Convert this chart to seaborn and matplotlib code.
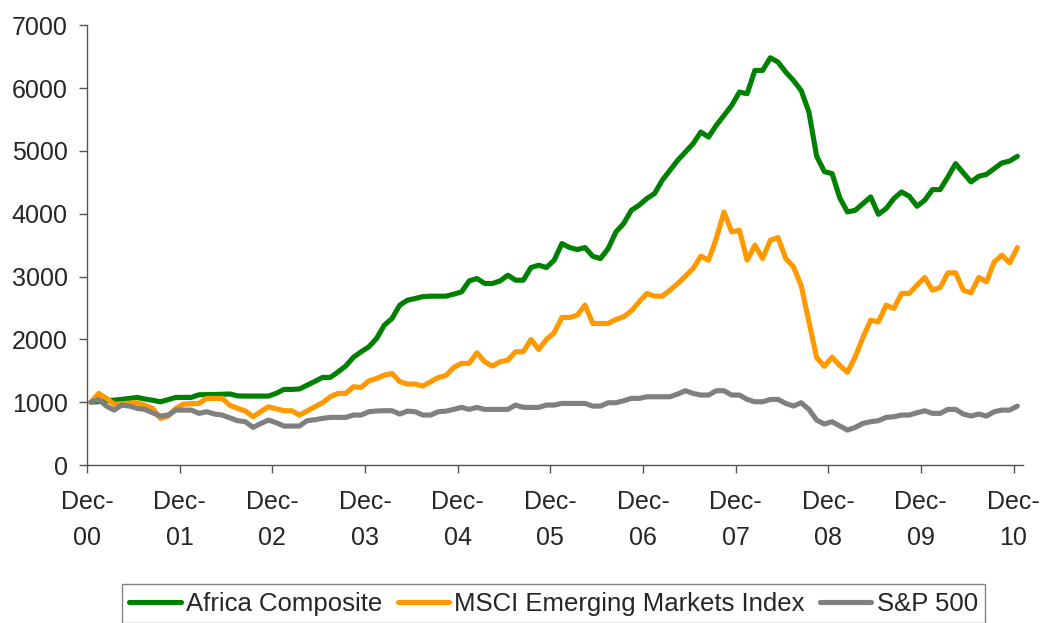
import matplotlib
matplotlib.use('Agg')
import matplotlib.pyplot as plt
import numpy as np
import pandas as pd
import seaborn as sns

# Monthly index values, Dec-00 = 1000
africa = [1000, 1010, 1020, 1033, 1045, 1060, 1076, 1050, 1030, 1006, 1040, 1076,
          1076, 1076, 1118, 1120, 1122, 1126, 1130, 1100, 1097, 1097, 1097, 1097,
          1140, 1203, 1203, 1210, 1270, 1330, 1394, 1394, 1480, 1575, 1715, 1802,
          1881, 2014, 2226, 2332, 2544, 2623, 2650, 2680, 2687, 2687, 2687, 2719,
          2755, 2930, 2968, 2889, 2889, 2930, 3021, 2941, 2941, 3143, 3180, 3143,
          3259, 3524, 3461, 3429, 3461, 3323, 3286, 3445, 3709, 3842, 4054, 4134,
          4240, 4320, 4531, 4690, 4849, 4981, 5114, 5299, 5220, 5405, 5564, 5723,
          5935, 5909, 6280, 6280, 6481, 6412, 6253, 6120, 5960, 5617, 4915, 4670,
          4637, 4250, 4027, 4054, 4160, 4266, 3990, 4081, 4240, 4346, 4277, 4118,
          4213, 4383, 4383, 4584, 4796, 4648, 4505, 4595, 4626, 4717, 4807, 4838,
          4913]

msci = [1000, 1139, 1060, 969, 975, 985, 991, 950, 901, 742, 779, 901,
        969, 975, 980, 1060, 1060, 1060, 950, 901, 860, 768, 850, 927,
        895, 864, 864, 795, 860, 927, 991, 1086, 1139, 1139, 1245, 1235,
        1340, 1378, 1431, 1457, 1325, 1288, 1288, 1256, 1325, 1394, 1426, 1553,
        1617, 1617, 1786, 1643, 1574, 1643, 1669, 1802, 1802, 1998, 1839, 1998,
        2104, 2348, 2348, 2385, 2544, 2253, 2253, 2253, 2316, 2358, 2453, 2596,
        2730, 2687, 2687, 2782, 2888, 3005, 3127, 3323, 3259, 3604, 4027, 3709,
        3736, 3259, 3498, 3286, 3577, 3620, 3286, 3153, 2854, 2280, 1710, 1570,
        1717, 1582, 1475, 1722, 2030, 2305, 2279, 2544, 2491, 2730, 2730, 2862,
        2984, 2782, 2825, 3058, 3058, 2782, 2740, 2984, 2914, 3232, 3339, 3216,
        3461]

sp500 = [1000, 1044, 938, 874, 954, 938, 901, 885, 830, 779, 795, 874,
         874, 874, 822, 848, 811, 795, 750, 705, 689, 599, 660, 715,
         673, 620, 620, 620, 705, 720, 742, 758, 758, 758, 795, 795,
         848, 860, 864, 864, 811, 858, 848, 795, 795, 848, 858, 885,
         917, 885, 917, 885, 885, 885, 885, 954, 917, 917, 917, 954,
         954, 980, 980, 980, 980, 938, 938, 991, 991, 1022, 1060, 1060,
         1086, 1086, 1086, 1086, 1129, 1182, 1139, 1113, 1113, 1182, 1182, 1113,
         1113, 1044, 1006, 1006, 1044, 1044, 980, 938, 991, 885, 715, 652,
         689, 620, 556, 599, 663, 689, 705, 758, 768, 795, 795, 832,
         864, 822, 822, 885, 885, 811, 779, 811, 779, 848, 874, 874,
         938]

series_names = ['Africa Composite', 'MSCI Emerging Markets Index', 'S&P 500']
series_colors = ['#008000', '#FF9900', '#808080']
tick_labels = ['Dec-\n00', 'Dec-\n01', 'Dec-\n02', 'Dec-\n03', 'Dec-\n04', 'Dec-\n05',
               'Dec-\n06', 'Dec-\n07', 'Dec-\n08', 'Dec-\n09', 'Dec-\n10']

# month-end points sit about half a month right of the year tick
months = np.arange(len(africa)) + 0.5
df = pd.DataFrame({
    'month': np.concatenate([months] * 3),
    'value': africa + msci + sp500,
    'series': np.repeat(series_names, len(africa)),
})

sns.set_style('white')
plt.rcParams['font.family'] = ['Liberation Sans', 'DejaVu Sans']

fig = plt.figure(figsize=(10.49, 6.23), dpi=100)
ax = fig.add_axes([0.083, 0.2536, 0.892, 0.706])

sns.lineplot(data=df, x='month', y='value', hue='series', hue_order=series_names,
             palette=series_colors, linewidth=3.7, ax=ax, legend=True)

ax.set_xlim(0, 121.2)
ax.set_ylim(0, 7000)
ax.set_yticks(range(0, 7001, 1000))
ax.set_xticks(range(0, 121, 12))
ax.set_xticklabels(tick_labels, linespacing=1.65)
ax.set_xlabel('')
ax.set_ylabel('')

for side in ['top', 'right']:
    ax.spines[side].set_visible(False)
for side in ['left', 'bottom']:
    ax.spines[side].set_color('#555555')
    ax.spines[side].set_linewidth(1.0)

ax.tick_params(axis='y', direction='out', length=6, width=1, color='#555555',
               labelsize=18, pad=8, left=True)
ax.tick_params(axis='x', direction='out', length=6, width=1, color='#555555',
               labelsize=18, pad=12, bottom=True)

handles, labels = ax.get_legend_handles_labels()
ax.get_legend().remove()
leg = fig.legend(handles, labels, loc='upper center', bbox_to_anchor=(0.5277, 0.0626),
                 ncol=3, frameon=True, fancybox=False, edgecolor='#666666',
                 fontsize=18.5, handlelength=2.0, handletextpad=0.2,
                 columnspacing=0.6, borderpad=0.3, borderaxespad=0)
leg.get_frame().set_linewidth(1.0)
for h in leg.get_lines():
    h.set_linewidth(3.7)
    h.set_solid_capstyle('round')

fig.savefig('out.png', dpi=100)
